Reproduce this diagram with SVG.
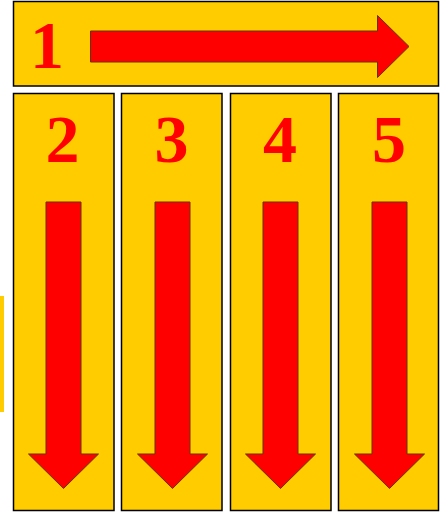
<svg xmlns="http://www.w3.org/2000/svg" width="440" height="512" viewBox="0 0 440 512">
<style>
.box{fill:#FFCC00;stroke:#000;stroke-width:1.5}
.arr{fill:#FF0000;stroke:#663300;stroke-width:1}
.num{fill:#FF0000;font-family:"Liberation Serif","DejaVu Serif",serif;font-weight:bold;font-size:68px;text-anchor:middle}
</style>
<rect x="0" y="0" width="440" height="512" fill="#FFFFFF"/>
<rect x="0" y="296" width="4" height="116" fill="#FFCC00"/>
<g id="node1">
<rect class="box" x="13.5" y="1.5" width="425" height="84.5"/>
<text class="num" x="47" y="68">1</text>
</g>
<g id="node2">
<rect class="box" x="13.5" y="93.5" width="100.5" height="417"/>
<text class="num" x="62.5" y="162">2</text>
</g>
<g id="node3">
<rect class="box" x="121.5" y="93.5" width="100.5" height="417"/>
<text class="num" x="171.5" y="162">3</text>
</g>
<g id="node4">
<rect class="box" x="230.5" y="93.5" width="100.5" height="417"/>
<text class="num" x="280" y="162">4</text>
</g>
<g id="node5">
<rect class="box" x="338.5" y="93.5" width="100" height="417"/>
<text class="num" x="389" y="162">5</text>
</g>
<g id="connectors">
<polygon class="arr" points="90.5,31 377.5,31 377.5,15.5 409,46.5 377.5,77.5 377.5,62 90.5,62"/>
<polygon class="arr" points="46,202 81,202 81,454 98.5,454 63.5,488.5 28.5,454 46,454"/>
<polygon class="arr" points="155,202 190,202 190,454 207.5,454 172.5,488.5 137.5,454 155,454"/>
<polygon class="arr" points="263,202 298,202 298,454 315.5,454 280.5,488.5 245.5,454 263,454"/>
<polygon class="arr" points="372,202 407,202 407,454 424.5,454 389.5,488.5 354.5,454 372,454"/>
</g>
</svg>
